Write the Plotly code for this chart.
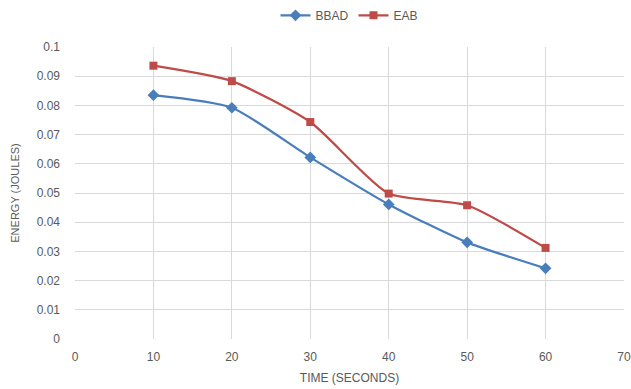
import plotly.graph_objects as go

time_s = [10, 20, 30, 40, 50, 60]
bbad = [0.0835, 0.0792, 0.0622, 0.0461, 0.0331, 0.0242]
eab = [0.0936, 0.0883, 0.0743, 0.0498, 0.0458, 0.0312]

fig = go.Figure()
fig.add_trace(go.Scatter(x=time_s, y=bbad, name="BBAD", mode="lines+markers",
                         line=dict(color="#4A7EBB", width=2.25, shape="spline", smoothing=0.6),
                         marker=dict(symbol="diamond", size=9, color="#4A7EBB")))
fig.add_trace(go.Scatter(x=time_s, y=eab, name="EAB", mode="lines+markers",
                         line=dict(color="#BE4B48", width=2.25, shape="spline", smoothing=0.6),
                         marker=dict(symbol="square", size=8, color="#BE4B48")))

grey = "#595959"
fam = "Liberation Sans, Arial, sans-serif"
fig.update_layout(
    width=631, height=389,
    margin=dict(l=75, r=7, t=47, b=50, autoexpand=False),
    paper_bgcolor="white", plot_bgcolor="white",
    font=dict(family=fam, size=12, color=grey),
    legend=dict(orientation="h", x=0.5, xanchor="center", y=0.998, yanchor="top",
                yref="container", font=dict(size=12, color=grey)),
    xaxis=dict(range=[0, 70], dtick=10, tick0=0, showgrid=True, gridcolor="#D9D9D9",
               zeroline=False, showline=False, ticks="", ticklabelstandoff=9,
               automargin=False, tickfont=dict(size=12),
               title=dict(text="TIME (SECONDS)", font=dict(size=12, color=grey), standoff=10)),
    yaxis=dict(range=[0, 0.1], dtick=0.01, tick0=0, showgrid=True, gridcolor="#D9D9D9",
               zeroline=False, showline=False, ticks="", ticklabelstandoff=14,
               automargin=False, tickfont=dict(size=12),
               title=dict(text="ENERGY (JOULES)", font=dict(size=11, color=grey), standoff=14)),
)
fig.write_html("out.html")
